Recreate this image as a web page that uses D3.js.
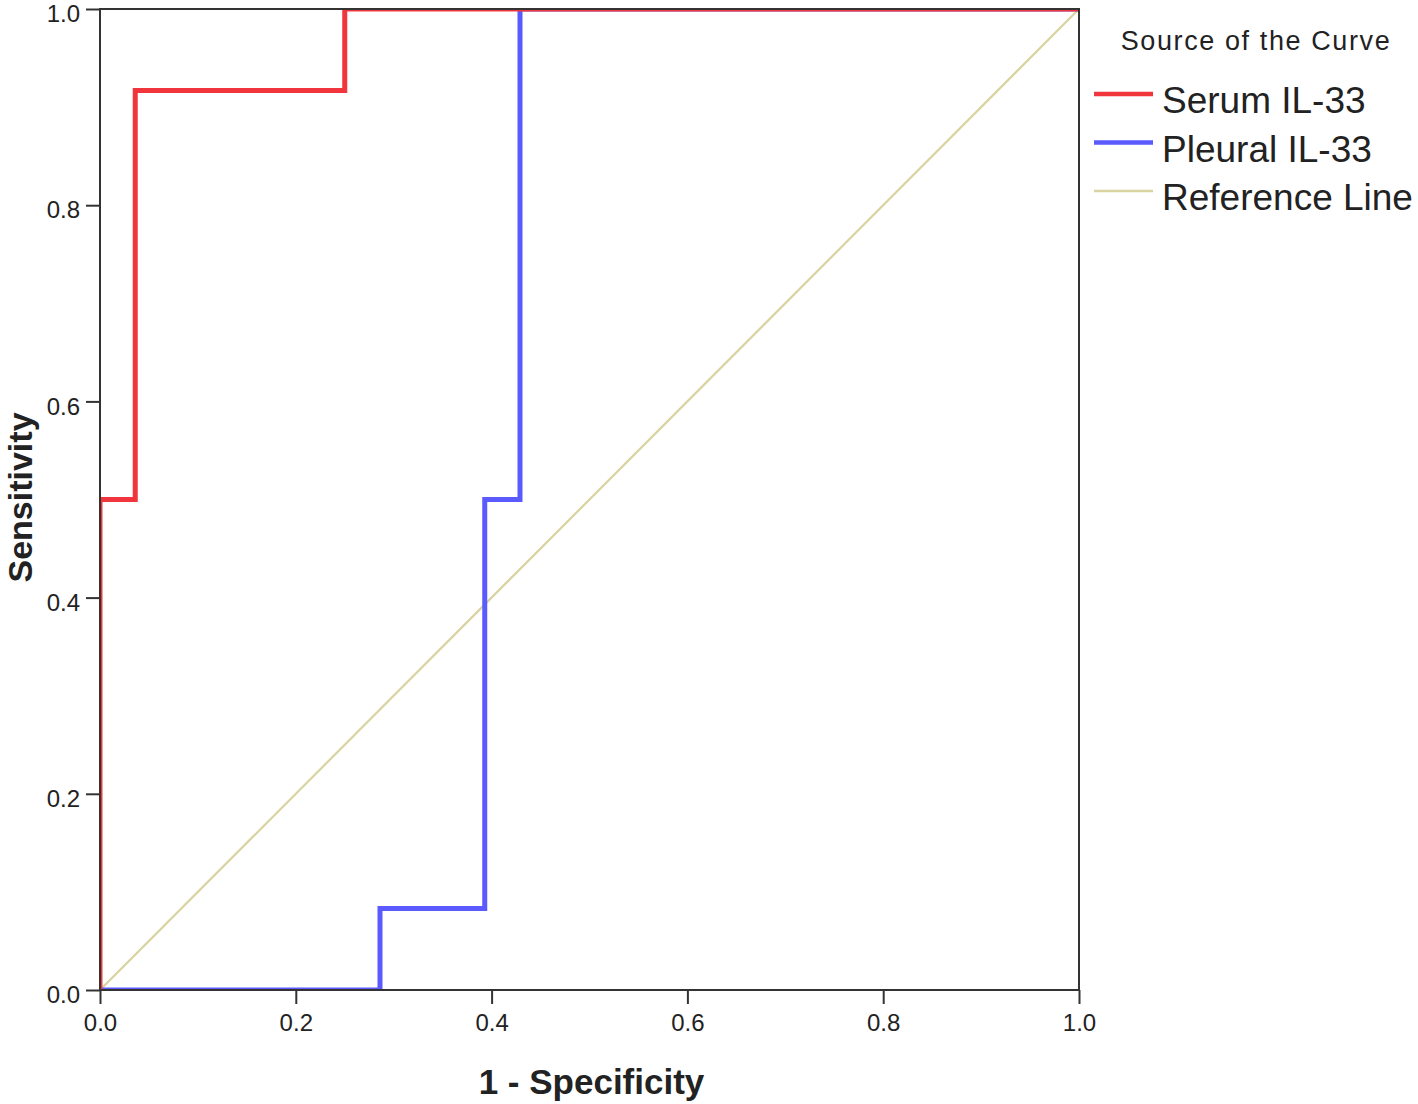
<!DOCTYPE html>
<html>
<head>
<meta charset="utf-8">
<script src="https://cdn.jsdelivr.net/npm/d3@7"></script>
<style>
  body { margin: 0; background: #fff; }
  text { font-family: "Liberation Sans", Arial, sans-serif; fill: #222; }
</style>
</head>
<body>
<div id="chart"></div>
<script>
// -------- Data --------
const seriesNames = ['Serum IL-33', 'Pleural IL-33', 'Reference Line'];
const serumFpr  = [0, 0,   0.036, 0.036, 0.25,  0.25, 1];
const serumTpr  = [0, 0.5, 0.5,   0.917, 0.917, 1,    1];
const pleuralFpr = [0, 0.286, 0.286, 0.393, 0.393, 0.429, 0.429, 1];
const pleuralTpr = [0, 0,     0.083, 0.083, 0.5,   0.5,   1,     1];
const refFpr = [0, 1];
const refTpr = [0, 1];
const tickValues = [0, 0.2, 0.4, 0.6, 0.8, 1.0];

// -------- Dimensions --------
const dims = { width: 1418, height: 1104 };
const plot = { left: 100, top: 9, right: 1079, bottom: 990 };

const x = d3.scaleLinear().domain([0, 1]).range([plot.left, plot.right]);
const y = d3.scaleLinear().domain([0, 1]).range([plot.bottom, plot.top]);

const svg = d3.select('#chart').append('svg')
  .attr('width', dims.width)
  .attr('height', dims.height);

svg.append('clipPath').attr('id', 'clip')
  .append('rect')
    .attr('x', plot.left - 1).attr('y', plot.top)
    .attr('width', plot.right - plot.left + 1)
    .attr('height', plot.bottom - plot.top + 1);

// -------- Curves --------
const series = [
  { name: seriesNames[2], fpr: refFpr,     tpr: refTpr,     color: '#d8d3a0', w: 2.2 },
  { name: seriesNames[1], fpr: pleuralFpr, tpr: pleuralTpr, color: '#5a5aff', w: 5 },
  { name: seriesNames[0], fpr: serumFpr,   tpr: serumTpr,   color: '#f0363c', w: 5 }
];

const line = d3.line().x(d => x(d[0])).y(d => y(d[1]));

svg.append('g').attr('clip-path', 'url(#clip)')
  .selectAll('path')
  .data(series)
  .join('path')
    .attr('d', s => line(d3.zip(s.fpr, s.tpr)))
    .attr('fill', 'none')
    .attr('stroke', s => s.color)
    .attr('stroke-width', s => s.w)
    .attr('stroke-linejoin', 'miter')
    .attr('stroke-linecap', 'butt');

// -------- Frame --------
svg.append('rect')
  .attr('x', plot.left).attr('y', plot.top)
  .attr('width', plot.right - plot.left)
  .attr('height', plot.bottom - plot.top)
  .attr('fill', 'none')
  .attr('stroke', '#333')
  .attr('stroke-width', 2);

// -------- Axes --------
const fmt = d3.format('.1f');
const xAxis = svg.append('g')
  .attr('transform', `translate(0,${plot.bottom})`)
  .call(d3.axisBottom(x).tickValues(tickValues).tickFormat(fmt).tickSize(14).tickPadding(10));
const yAxis = svg.append('g')
  .attr('transform', `translate(${plot.left},0)`)
  .call(d3.axisLeft(y).tickValues(tickValues).tickFormat(fmt).tickSize(14).tickPadding(6));

[xAxis, yAxis].forEach(a => {
  a.select('.domain').remove();
  a.selectAll('.tick line').attr('stroke', '#333').attr('stroke-width', 2);
  a.selectAll('.tick text')
    .attr('font-size', 24)
    .attr('font-family', '"Liberation Sans", Arial, sans-serif')
    .attr('fill', '#222');
});
yAxis.selectAll('.tick text').attr('dy', '0.36em').attr('y', 4);

// -------- Axis titles --------
svg.append('text')
  .attr('x', (plot.left + plot.right) / 2 + 2)
  .attr('y', 1094)
  .attr('text-anchor', 'middle')
  .attr('font-size', 35)
  .attr('font-weight', 'bold')
  .text('1 - Specificity');

svg.append('text')
  .attr('transform', `translate(32,${(plot.top + plot.bottom) / 2 - 2}) rotate(-90)`)
  .attr('text-anchor', 'middle')
  .attr('font-size', 34)
  .attr('font-weight', 'bold')
  .text('Sensitivity');

// -------- Legend --------
const legend = svg.append('g');
legend.append('text')
  .attr('x', 1256)
  .attr('y', 50)
  .attr('text-anchor', 'middle')
  .attr('font-size', 27)
  .attr('letter-spacing', 1.6)
  .text('Source of the Curve');

const legendItems = series.slice().reverse();
const rows = legend.selectAll('g.row')
  .data(legendItems)
  .join('g')
    .attr('class', 'row')
    .attr('transform', (d, i) => `translate(0,${94 + i * 48.5})`);

rows.append('line')
  .attr('x1', 1094).attr('x2', 1153)
  .attr('stroke', d => d.color)
  .attr('stroke-width', d => d.w === 5 ? 4.5 : 2.5);

rows.append('text')
  .attr('x', 1162)
  .attr('y', 19)
  .attr('font-size', 37)
  .text(d => d.name);
</script>
</body>
</html>
